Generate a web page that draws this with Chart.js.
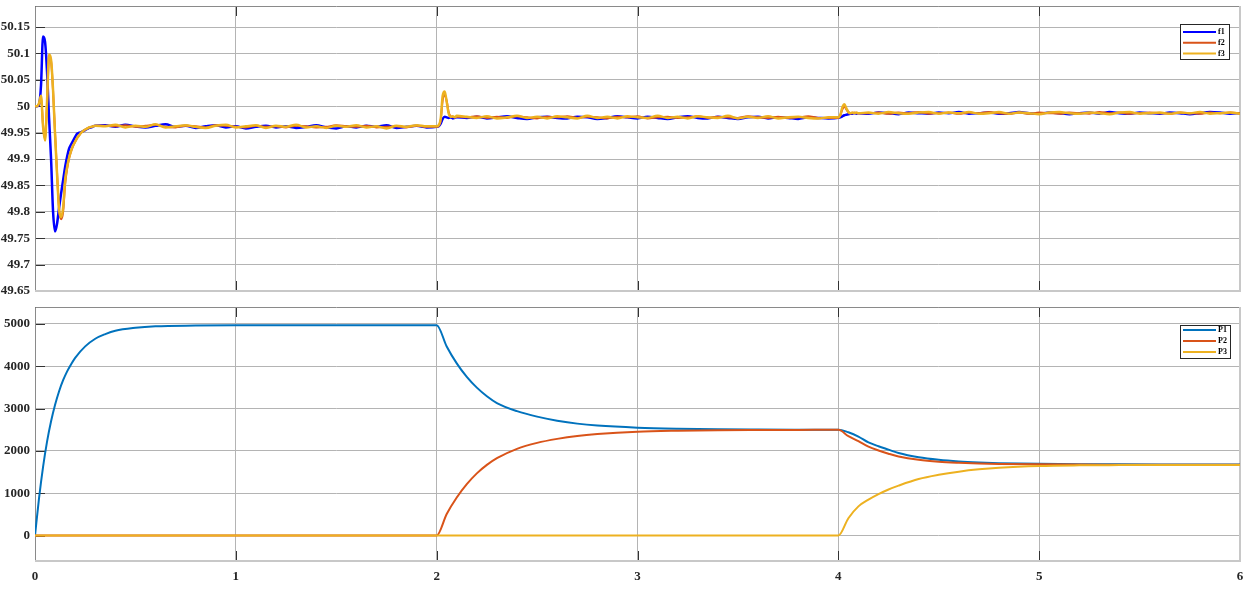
<!DOCTYPE html>
<html>
<head>
<meta charset="utf-8">
<title>f / P</title>
<script src="https://cdn.jsdelivr.net/npm/chart.js@4.4.1/dist/chart.umd.min.js"></script>
<style>
  body { margin: 0; background: #fff; }
  #wrap { position: relative; width: 1250px; height: 603px; }
  canvas { position: absolute; left: 0; }
  #top { top: 0; }
  #bot { top: 300px; }
</style>
</head>
<body>
<div id="wrap">
  <canvas id="top" width="1250" height="300"></canvas>
  <canvas id="bot" width="1250" height="303"></canvas>
</div>
<script>
// time axis of the top panel (dense around the transients)
const tTop = [
  0, 0.01, 0.02, 0.03, 0.04, 0.05, 0.06, 0.07, 0.08, 0.09, 0.1, 0.11, 0.12, 0.13, 0.14, 0.15,
  0.16, 0.17, 0.18, 0.19, 0.2, 0.21, 0.22, 0.23, 0.24, 0.25, 0.26, 0.27, 0.28, 0.29, 0.3,
  0.35, 0.4, 0.45, 0.5, 0.55, 0.6, 0.65, 0.7, 0.75, 0.8, 0.85, 0.9, 0.95, 1, 1.05, 1.1, 1.15,
  1.2, 1.25, 1.3, 1.35, 1.4, 1.45, 1.5, 1.55, 1.6, 1.65, 1.7, 1.75, 1.8, 1.85, 1.9, 1.95,
  2, 2.01, 2.02, 2.03, 2.04, 2.05, 2.06, 2.07, 2.08, 2.09, 2.1,
  2.15, 2.2, 2.25, 2.3, 2.35, 2.4, 2.45, 2.5, 2.55, 2.6, 2.65, 2.7, 2.75, 2.8, 2.85, 2.9, 2.95,
  3, 3.05, 3.1, 3.15, 3.2, 3.25, 3.3, 3.35, 3.4, 3.45, 3.5, 3.55, 3.6, 3.65, 3.7, 3.75, 3.8, 3.85, 3.9, 3.95,
  4, 4.01, 4.02, 4.03, 4.04, 4.05, 4.06, 4.07, 4.08, 4.09, 4.1,
  4.15, 4.2, 4.25, 4.3, 4.35, 4.4, 4.45, 4.5, 4.55, 4.6, 4.65, 4.7, 4.75, 4.8, 4.85, 4.9, 4.95,
  5, 5.05, 5.1, 5.15, 5.2, 5.25, 5.3, 5.35, 5.4, 5.45, 5.5, 5.55, 5.6, 5.65, 5.7, 5.75, 5.8, 5.85, 5.9, 5.95, 6
];

const f1 = [
  50.000, 50.000, 50.003, 50.040, 50.132, 50.122, 50.065, 49.978, 49.900, 49.800, 49.763, 49.778, 49.808, 49.835, 49.860, 49.885,
  49.905, 49.920, 49.928, 49.935, 49.942, 49.948, 49.950, 49.951, 49.953, 49.955, 49.957, 49.959, 49.960, 49.962, 49.963,
  49.964, 49.961, 49.965, 49.962, 49.960, 49.963, 49.966, 49.961, 49.963, 49.959, 49.962, 49.964, 49.960, 49.962, 49.958, 49.961, 49.963,
  49.960, 49.962, 49.959, 49.961, 49.964, 49.960, 49.958, 49.962, 49.960, 49.963, 49.961, 49.964, 49.959, 49.961, 49.963, 49.960,
  49.961, 49.962, 49.967, 49.976, 49.980, 49.979, 49.978, 49.979, 49.977, 49.978, 49.979,
  49.978, 49.980, 49.977, 49.979, 49.981, 49.978, 49.976, 49.979, 49.980, 49.978, 49.977, 49.980, 49.979, 49.976, 49.978, 49.981, 49.979,
  49.977, 49.980, 49.978, 49.976, 49.979, 49.981, 49.978, 49.977, 49.980, 49.978, 49.976, 49.979, 49.980, 49.977, 49.979, 49.978, 49.976, 49.979, 49.978, 49.977,
  49.978, 49.979, 49.981, 49.983, 49.984, 49.985, 49.986, 49.986, 49.987, 49.986, 49.987,
  49.986, 49.988, 49.987, 49.985, 49.988, 49.987, 49.986, 49.988, 49.987, 49.989, 49.986, 49.987, 49.988, 49.986, 49.987, 49.989, 49.987,
  49.986, 49.988, 49.987, 49.985, 49.987, 49.988, 49.986, 49.989, 49.987, 49.986, 49.988, 49.987, 49.986, 49.988, 49.987, 49.985, 49.987, 49.989, 49.988, 49.986, 49.987
];

const f2 = [
  50.000, 50.000, 50.005, 50.018, 49.965, 49.938, 50.005, 50.092, 50.085, 50.028, 49.948, 49.872, 49.803, 49.786, 49.800, 49.852,
  49.882, 49.902, 49.915, 49.925, 49.933, 49.940, 49.945, 49.950, 49.953, 49.956, 49.958, 49.960, 49.961, 49.962, 49.963,
  49.963, 49.962, 49.964, 49.961, 49.963, 49.965, 49.961, 49.960, 49.963, 49.962, 49.960, 49.964, 49.963, 49.961, 49.960, 49.963, 49.961,
  49.962, 49.960, 49.963, 49.962, 49.960, 49.961, 49.964, 49.962, 49.961, 49.963, 49.960, 49.961, 49.962, 49.960, 49.963, 49.961,
  49.961, 49.963, 49.973, 50.012, 50.022, 50.010, 49.988, 49.981, 49.980, 49.979, 49.980,
  49.979, 49.981, 49.978, 49.980, 49.978, 49.981, 49.979, 49.977, 49.980, 49.979, 49.981, 49.978, 49.980, 49.979, 49.977, 49.980, 49.979,
  49.981, 49.977, 49.979, 49.980, 49.978, 49.979, 49.981, 49.978, 49.980, 49.979, 49.978, 49.981, 49.979, 49.978, 49.980, 49.978, 49.979, 49.981, 49.978, 49.978,
  49.978, 49.983, 49.994, 50.000, 49.994, 49.989, 49.987, 49.987, 49.988, 49.987, 49.987,
  49.987, 49.988, 49.986, 49.988, 49.987, 49.989, 49.986, 49.987, 49.988, 49.986, 49.988, 49.987, 49.989, 49.987, 49.986, 49.988, 49.986,
  49.988, 49.987, 49.986, 49.988, 49.987, 49.986, 49.989, 49.987, 49.988, 49.986, 49.987, 49.988, 49.987, 49.986, 49.988, 49.987, 49.986, 49.988, 49.987, 49.988, 49.987
];

const f3 = [
  50.000, 50.000, 50.006, 50.020, 49.962, 49.935, 50.010, 50.098, 50.088, 50.030, 49.945, 49.870, 49.805, 49.790, 49.808, 49.860,
  49.885, 49.903, 49.916, 49.926, 49.933, 49.940, 49.945, 49.950, 49.953, 49.956, 49.958, 49.960, 49.961, 49.962, 49.963,
  49.962, 49.965, 49.960, 49.963, 49.961, 49.966, 49.960, 49.962, 49.964, 49.961, 49.959, 49.963, 49.965, 49.960, 49.962, 49.964, 49.959,
  49.963, 49.961, 49.965, 49.960, 49.962, 49.959, 49.963, 49.961, 49.964, 49.960, 49.962, 49.958, 49.963, 49.961, 49.964, 49.962,
  49.962, 49.964, 49.976, 50.020, 50.028, 50.008, 49.986, 49.980, 49.981, 49.979, 49.982,
  49.980, 49.978, 49.981, 49.977, 49.979, 49.982, 49.978, 49.980, 49.977, 49.981, 49.979, 49.977, 49.982, 49.978, 49.980, 49.977, 49.981,
  49.979, 49.978, 49.982, 49.978, 49.980, 49.977, 49.981, 49.979, 49.978, 49.982, 49.977, 49.980, 49.978, 49.981, 49.977, 49.979, 49.980, 49.978, 49.977, 49.979,
  49.979, 49.984, 49.998, 50.004, 49.996, 49.989, 49.987, 49.988, 49.987, 49.988, 49.987,
  49.988, 49.986, 49.989, 49.987, 49.986, 49.988, 49.989, 49.986, 49.988, 49.987, 49.989, 49.986, 49.987, 49.989, 49.986, 49.988, 49.987,
  49.985, 49.988, 49.989, 49.987, 49.986, 49.988, 49.987, 49.985, 49.988, 49.989, 49.986, 49.987, 49.988, 49.986, 49.988, 49.987, 49.989, 49.986, 49.987, 49.988, 49.986
];

// time axis of the bottom panel
const tBot = [
  0, 0.02, 0.04, 0.06, 0.08, 0.1, 0.12, 0.14, 0.16, 0.18, 0.2, 0.25, 0.3, 0.35, 0.4, 0.5, 0.6, 0.8, 1, 1.5, 2,
  2.05, 2.1, 2.15, 2.2, 2.25, 2.3, 2.4, 2.5, 2.6, 2.7, 2.8, 3, 3.2, 3.4, 3.6, 3.8, 4,
  4.05, 4.1, 4.15, 4.2, 4.25, 4.3, 4.4, 4.5, 4.6, 4.7, 4.8, 5, 5.2, 5.4, 5.6, 5.8, 6
];

const P1 = [
  0, 880, 1620, 2220, 2700, 3090, 3410, 3670, 3880, 4050, 4200, 4470, 4650, 4760, 4840, 4910, 4945, 4962, 4968, 4970, 4970,
  4468, 4068, 3749, 3495, 3293, 3132, 2940, 2810, 2715, 2645, 2600, 2550, 2525, 2512, 2506, 2503, 2502,
  2440, 2340, 2200, 2110, 2030, 1950, 1850, 1790, 1752, 1728, 1712, 1696, 1688, 1684, 1682, 1681, 1680
];

const P2 = [
  0, 0, 0, 0, 0, 0, 0, 0, 0, 0, 0, 0, 0, 0, 0, 0, 0, 0, 0, 0, 0,
  510, 900, 1215, 1470, 1670, 1830, 2050, 2190, 2285, 2355, 2400, 2455, 2478, 2490, 2495, 2497, 2498,
  2350, 2230, 2100, 2010, 1935, 1870, 1790, 1745, 1720, 1703, 1693, 1683, 1678, 1675, 1674, 1673, 1673
];

const P3 = [
  0, 0, 0, 0, 0, 0, 0, 0, 0, 0, 0, 0, 0, 0, 0, 0, 0, 0, 0, 0, 0,
  0, 0, 0, 0, 0, 0, 0, 0, 0, 0, 0, 0, 0, 0, 0, 0, 0,
  410, 690, 850, 980, 1090, 1180, 1335, 1435, 1510, 1565, 1603, 1645, 1660, 1665, 1667, 1668, 1668
];

const xTicks = [0, 1, 2, 3, 4, 5, 6];
const topTicks = [49.65, 49.7, 49.75, 49.8, 49.85, 49.9, 49.95, 50, 50.05, 50.1, 50.15];
const botTicks = [0, 1000, 2000, 3000, 4000, 5000];

Chart.defaults.font.family = "'Liberation Serif', 'Times New Roman', serif";
Chart.defaults.font.size = 13;
Chart.defaults.font.weight = 'bold';
Chart.defaults.color = '#262626';

function pts(t, v) {
  return t.map((x, i) => ({ x: x, y: v[i] }));
}

// inner tick marks and the box around the plot area
const framePlugin = {
  id: 'frame',
  beforeDatasetsDraw(chart) {
    const { ctx, chartArea: a, scales } = chart;
    ctx.save();
    ctx.lineWidth = 1;
    ctx.strokeStyle = '#333';
    ctx.beginPath();
    scales.y.ticks.forEach(t => {
      const y = Math.round(scales.y.getPixelForValue(t.value)) + 0.5;
      ctx.moveTo(a.left, y);
      ctx.lineTo(a.left + 10, y);
    });
    scales.x.ticks.forEach(t => {
      const x = Math.round(scales.x.getPixelForValue(t.value)) + 0.5;
      ctx.moveTo(x, a.top);
      ctx.lineTo(x, a.top + 10);
      ctx.moveTo(x, a.bottom);
      ctx.lineTo(x, a.bottom - 10);
    });
    ctx.stroke();

    ctx.strokeStyle = '#8a8a8a';
    ctx.beginPath();
    ctx.moveTo(a.left + 0.5, a.bottom);
    ctx.lineTo(a.left + 0.5, a.top + 0.5);
    ctx.lineTo(a.right, a.top + 0.5);
    ctx.stroke();

    ctx.strokeStyle = '#c8c8c8';
    ctx.lineWidth = 2;
    ctx.beginPath();
    ctx.moveTo(a.left, a.bottom);
    ctx.lineTo(a.right, a.bottom);
    ctx.lineTo(a.right, a.top);
    ctx.stroke();
    ctx.restore();
  }
};

// small boxed legend in the upper right corner
const boxLegend = {
  id: 'boxLegend',
  afterDraw(chart, args, o) {
    const ctx = chart.ctx;
    ctx.save();
    ctx.fillStyle = '#fff';
    ctx.fillRect(o.x, o.y, o.w, o.h);
    ctx.strokeStyle = '#262626';
    ctx.lineWidth = 1;
    ctx.strokeRect(o.x + 0.5, o.y + 0.5, o.w, o.h);
    ctx.font = "bold 8px 'Liberation Serif', serif";
    ctx.textBaseline = 'middle';
    chart.data.datasets.forEach((ds, i) => {
      const y = o.y + o.first + i * o.gap;
      ctx.strokeStyle = ds.borderColor;
      ctx.lineWidth = 2;
      ctx.beginPath();
      ctx.moveTo(o.x + 3, y);
      ctx.lineTo(o.x + 36, y);
      ctx.stroke();
      ctx.fillStyle = '#000';
      ctx.fillText(ds.label, o.x + 38, y);
    });
    ctx.restore();
  }
};

function line(label, t, v, color, width, order) {
  return {
    label: label,
    data: pts(t, v),
    borderColor: color,
    borderWidth: width,
    pointRadius: 0,
    cubicInterpolationMode: 'monotone',
    fill: false,
    order: order
  };
}

function xScale(showLabels, height) {
  return {
    type: 'linear',
    min: 0,
    max: 6,
    afterBuildTicks: s => { s.ticks = xTicks.map(v => ({ value: v })); },
    afterFit: s => { s.height = height; s.paddingLeft = 0; s.paddingRight = 0; },
    ticks: { display: showLabels, padding: 8, callback: v => String(v) },
    grid: { color: '#b4b4b4', drawTicks: false },
    border: { display: false }
  };
}

function yScale(min, max, ticks) {
  return {
    min: min,
    max: max,
    afterBuildTicks: s => { s.ticks = ticks.map(v => ({ value: v })); },
    afterFit: s => { s.width = 35; s.paddingTop = 0; s.paddingBottom = 0; },
    ticks: { padding: 5, callback: v => String(v) },
    grid: { color: '#b4b4b4', drawTicks: false },
    border: { display: false }
  };
}

const common = {
  responsive: false,
  animation: false,
  devicePixelRatio: 1,
  events: []
};

new Chart(document.getElementById('top').getContext('2d'), {
  type: 'line',
  data: {
    datasets: [
      line('f1', tTop, f1, '#0000ff', 2.5, 3),
      line('f2', tTop, f2, '#d95319', 2, 2),
      line('f3', tTop, f3, '#edb120', 2.5, 1)
    ]
  },
  options: Object.assign({}, common, {
    layout: { padding: { top: 6, right: 10, bottom: 9, left: 0 } },
    scales: {
      x: xScale(false, 0),
      y: yScale(49.65, 50.19, topTicks)
    },
    plugins: {
      legend: { display: false },
      tooltip: { enabled: false },
      boxLegend: { x: 1180, y: 24, w: 49, h: 35, first: 8, gap: 10.8 }
    }
  }),
  plugins: [framePlugin, boxLegend]
});

new Chart(document.getElementById('bot').getContext('2d'), {
  type: 'line',
  data: {
    datasets: [
      line('P1', tBot, P1, '#0072bd', 2, 3),
      line('P2', tBot, P2, '#d95319', 2, 2),
      line('P3', tBot, P3, '#edb120', 2, 1)
    ]
  },
  options: Object.assign({}, common, {
    layout: { padding: { top: 7, right: 10, bottom: 0, left: 0 } },
    scales: {
      x: xScale(true, 42),
      y: yScale(-600, 5400, botTicks)
    },
    plugins: {
      legend: { display: false },
      tooltip: { enabled: false },
      boxLegend: { x: 1180, y: 25, w: 50, h: 33, first: 5, gap: 11 }
    }
  }),
  plugins: [framePlugin, boxLegend]
});
</script>
</body>
</html>
